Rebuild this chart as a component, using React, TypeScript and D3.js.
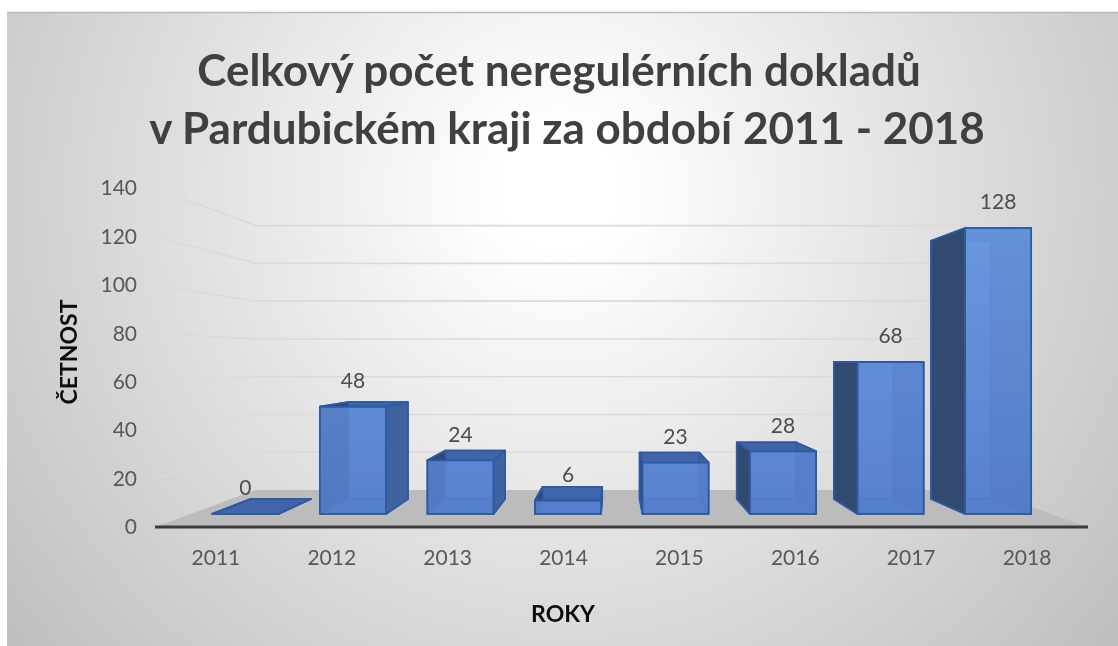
import React from 'react';
import * as d3 from 'd3';

const years = ['2011', '2012', '2013', '2014', '2015', '2016', '2017', '2018'];
const counts = [0, 48, 24, 6, 23, 28, 68, 128];
const yTicks = [0, 20, 40, 60, 80, 100, 120, 140];
const titleLines = ['Celkový počet neregulérních dokladů', 'v Pardubickém kraji za období 2011 - 2018'];
const xTitle = 'ROKY';
const yTitle = 'ČETNOST';

const W = 1118, H = 646;
const FONT = 'Lato, Carlito, "Open Sans", sans-serif';
const VP: [number, number] = [613, 359];
const S_FRONT = 0.922, S_BACK = 0.833, S_WALL = 0.78;

const x = d3.scaleBand<string>().domain(years).range([156, 1089]).paddingInner(0.386).paddingOuter(0.193);
const tickX = d3.scaleBand<string>().domain(years).range([158, 1085]);
const y = d3.scaleLinear().domain([0, 140]).range([527, 188]);

const proj = (px: number, py: number, s: number): [number, number] => [
  VP[0] + (px - VP[0]) * s,
  VP[1] + (py - VP[1]) * s,
];
const poly = (pts: [number, number][]) => (d3.line()(pts) ?? '') + 'Z';

const EDGE = '#2f5aa3';

function Bar({ year, value }: { year: string; value: number }) {
  const x0 = x(year)!, x1 = x0 + x.bandwidth();
  const yb = y(0), yt = y(value);
  const fbl = proj(x0, yb, S_FRONT), fbr = proj(x1, yb, S_FRONT);
  const ftl = proj(x0, yt, S_FRONT), ftr = proj(x1, yt, S_FRONT);
  const bbl = proj(x0, yb, S_BACK), bbr = proj(x1, yb, S_BACK);
  const btl = proj(x0, yt, S_BACK), btr = proj(x1, yt, S_BACK);
  const common = { stroke: EDGE, strokeWidth: 1.8, strokeLinejoin: 'round' as const };
  return (
    <g>
      <path d={poly([bbl, bbr, btr, btl])} fill="#4f7bc8" fillOpacity={0.9} {...common} />
      <path d={poly([bbl, bbr, fbr, fbl])} fill="#4a75c0" {...common} />
      <path d={poly([btl, btr, ftr, ftl])} fill="#3f65a8" {...common} />
      <path d={poly([bbr, btr, ftr, fbr])} fill="#3f639f" {...common} />
      <path d={poly([bbl, btl, ftl, fbl])} fill="#30486f" {...common} />
      <path d={poly([fbl, fbr, ftr, ftl])} fill="url(#frontGrad)" fillOpacity={0.84} {...common} />
    </g>
  );
}

export default function App() {
  const floor = poly([
    proj(155, y(0), 1),
    proj(1088, y(0), 1),
    proj(1088, y(0), S_WALL),
    proj(155, y(0), S_WALL),
  ]);
  return (
    <svg width={W} height={H} viewBox={`0 0 ${W} ${H}`} style={{ position: 'absolute', left: 0, top: 0, display: 'block' }}>
      <defs>
        <radialGradient id="bg" gradientUnits="userSpaceOnUse" cx={560} cy={190} r={730}>
          <stop offset="0.08" stopColor="#ffffff" />
          <stop offset="1" stopColor="#bdbdbd" />
        </radialGradient>
        <linearGradient id="frontGrad" gradientUnits="userSpaceOnUse" x1={0} y1={228} x2={0} y2={514}>
          <stop offset="0" stopColor="#6c9ae2" />
          <stop offset="1" stopColor="#5781cf" />
        </linearGradient>
        <filter id="soft" x="-2%" y="-2%" width="104%" height="104%">
          <feGaussianBlur stdDeviation="0.5" />
        </filter>
      </defs>
      <rect x={0} y={0} width={W} height={H} fill="#ffffff" />
      <rect x={7} y={12} width={W - 7} height={H - 12} fill="url(#bg)" />
      <line x1={7} x2={W} y1={12.5} y2={12.5} stroke="#b9b9b9" strokeWidth={1.5} />

      <g filter="url(#soft)">
        {yTicks.filter(t => t > 0).map(t => (
          <path
            key={t}
            d={d3.line()([proj(155, y(t), 1), proj(155, y(t), S_WALL), proj(1088, y(t), S_WALL)]) ?? ''}
            fill="none"
            stroke="#dadada"
            strokeWidth={1.6}
          />
        ))}
        <path d={floor} fill="#bcbcbc" />
        <line x1={155} x2={1088} y1={y(0)} y2={y(0)} stroke="#3b3b3b" strokeWidth={3} />
        {years.map((yr, i) => <Bar key={yr} year={yr} value={counts[i]} />)}
      </g>

      <g fontFamily={FONT} filter="url(#soft)">
        {titleLines.map((line, i) => (
          <text key={i} x={i === 0 ? 559 : 567} y={86 + i * 58} textAnchor="middle" fontSize={44} fontWeight={700} fill="#404040">
            {line}
          </text>
        ))}
        {yTicks.map(t => (
          <text key={t} x={137} y={y(t)} dy="0.35em" textAnchor="end" fontSize={21} fill="#595959">{t}</text>
        ))}
        {years.map(yr => (
          <text key={yr} x={tickX(yr)! + tickX.bandwidth() / 2} y={565} textAnchor="middle" fontSize={21} fill="#595959">{yr}</text>
        ))}
        {years.map((yr, i) => (
          <text
            key={yr}
            x={proj(x(yr)! + x.bandwidth() / 2, 0, S_FRONT)[0]}
            y={proj(0, y(counts[i]), S_FRONT)[1] - 26}
            dy="0.35em"
            textAnchor="middle"
            fontSize={21}
            fill="#4d4d4d"
          >
            {counts[i]}
          </text>
        ))}
        <text x={563} y={622} textAnchor="middle" fontSize={23} fontWeight={700} fill="#111111">{xTitle}</text>
        <text transform="translate(77,352) rotate(-90)" textAnchor="middle" fontSize={23} fontWeight={700} fill="#111111">{yTitle}</text>
      </g>
    </svg>
  );
}
